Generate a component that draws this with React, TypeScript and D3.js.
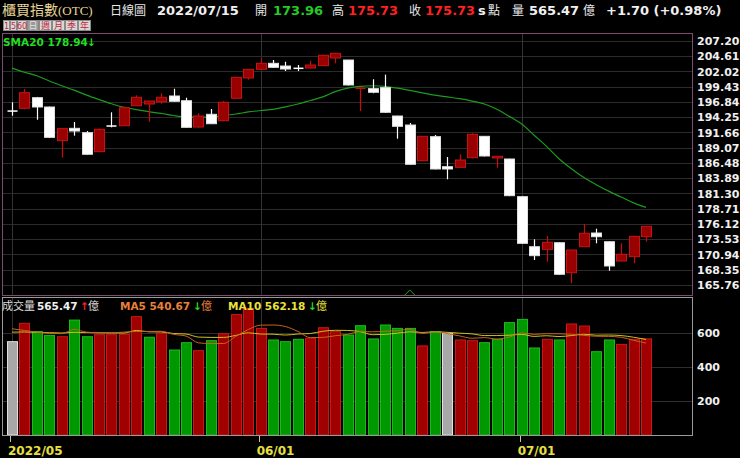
import React from 'react';
import * as d3 from 'd3';

// ---- data ----
const opens = [195.30,195.77,197.57,195.99,190.27,192.37,191.63,188.40,192.76,192.81,196.21,196.50,196.89,197.86,197.06,192.59,194.75,193.66,197.47,200.92,202.39,203.41,202.95,202.56,202.61,203.01,204.31,203.97,199.00,199.10,199.27,194.46,192.93,186.87,190.95,185.85,185.75,187.38,191.01,187.33,187.16,180.76,172.26,171.82,172.94,167.85,172.26,174.59,173.11,169.84,170.57,173.96];
const highs = [196.79,199.05,197.70,196.05,192.40,193.44,191.91,192.35,195.09,196.04,197.98,197.05,198.32,199.10,197.57,194.92,195.65,197.01,201.10,202.45,204.26,203.97,203.68,203.12,203.85,204.85,205.15,204.00,199.20,200.70,201.48,194.50,193.27,191.05,191.24,187.50,187.96,191.52,191.05,187.65,187.20,180.80,173.52,174.08,173.00,171.75,176.12,175.32,173.15,172.84,174.10,175.73];
const lows = [194.51,195.60,193.83,190.75,187.38,191.12,187.90,188.30,192.54,192.75,196.15,193.49,196.55,196.90,192.50,192.50,193.10,193.60,197.40,200.63,202.30,202.65,202.10,202.10,202.55,202.95,203.41,199.65,195.31,198.32,195.00,190.61,186.20,186.80,185.40,183.71,185.70,187.30,187.60,185.68,180.85,172.80,170.01,169.72,167.50,166.05,172.20,172.84,168.19,169.80,169.44,173.11];
const closes = [195.19,198.42,195.99,190.84,192.31,191.91,187.96,192.20,192.60,195.87,197.64,197.01,197.64,196.96,192.54,194.46,193.15,196.79,201.03,202.39,203.41,202.73,202.44,202.39,203.12,204.77,205.11,199.73,199.17,198.49,195.09,192.71,186.26,191.01,185.46,185.46,186.99,191.35,187.67,187.62,180.93,172.84,170.74,173.01,167.58,171.70,174.54,173.96,168.99,170.97,174.03,175.73];
const sma20 = [202.6,201.9,201.3,200.4,199.6,198.85,198.0,197.25,196.55,195.95,195.55,195.2,194.9,194.55,194.3,194.25,194.3,194.55,194.8,195.15,195.4,195.6,196.0,196.5,197.1,197.7,198.6,199.2,199.5,199.6,199.5,199.2,198.8,198.4,198.0,197.7,197.4,197.0,196.5,195.6,194.4,193.1,191.2,189.3,187.2,185.5,184.0,182.8,181.7,180.7,179.7,178.94];
const volumes = [549,657,608,586,578,676,578,590,590,592,696,575,598,500,543,496,555,596,708,745,627,559,549,563,569,631,608,588,643,565,647,627,627,524,608,598,559,555,543,563,661,680,512,563,559,653,641,490,559,533,563,565.47];
const volMA5 = [625,615,605,598,596,621,605,602,602,605,609,609,610,592,582,542,538,538,580,620,646,647,638,609,573,574,584,592,608,607,610,614,622,598,607,597,583,569,573,564,576,600,592,596,595,593,586,581,580,575,557,540.67];
const volMA10 = [605,606,604,602,600,604,603,601,600,600,615,607,606,597,594,576,574,574,586,601,594,593,588,594,597,610,616,615,608,590,592,599,607,603,607,604,599,595,585,585,587,592,580,584,579,585,593,587,588,585,575,562.18];
const priceTicks = ['207.20','204.61','202.02','199.43','196.84','194.25','191.66','189.07','186.48','183.89','181.30','178.71','176.12','173.53','170.94','168.35','165.76'];
const volTicks = [200, 400, 600];
const dateTickIndex = [0, 20, 41];
const dateTickLabels = ['2022/05', '06/01', '07/01'];
const periodButtons = ['1', '5', '60', '日', '週', '月', '季', '年'];

const NUM = "'DejaVu Sans', Verdana, sans-serif";
const CJK = "'Noto Sans CJK TC', 'Noto Sans CJK SC', sans-serif";

export default function App() {
  const W = 740, H = 458;
  const x = d3.scaleLinear().domain([0, 51]).range([12, 646]);
  const yP = d3.scaleLinear().domain([165.76, 207.2]).range([285, 41]);
  const yV = d3.scaleLinear().domain([0, 600]).range([435, 333]);

  const smaLine = d3.line<number>().x((_, i) => x(i)).y(d => yP(d)).curve(d3.curveMonotoneX);
  const volLine = d3.line<number>().x((_, i) => x(i)).y(d => yV(d)).curve(d3.curveMonotoneX);

  const btnW = [6, 6, 9, 11, 12, 12, 12, 12];
  let bx = 3;
  const btns = periodButtons.map((b, i) => {
    const r = { x: bx, w: btnW[i], label: b, i };
    bx += btnW[i] + 1;
    return r;
  });

  return (
    <svg width={W} height={H} style={{ position: 'fixed', left: 0, top: 0, background: '#000' }}>
      <rect x={0} y={0} width={W} height={H} fill="#000" />

      {/* header */}
      <text y={15} fontSize={14} fill="#e6d596">
        <tspan x={2} fontFamily={CJK}>櫃買指數</tspan>
        <tspan fontFamily="'Liberation Serif', serif" fontSize={13}>(OTC)</tspan>
      </text>
      <text x={110} y={15} fontFamily={CJK} fontSize={12} fill="#e8e8e8">日線圖</text>
      <text x={157} y={15} fontFamily={NUM} fontWeight="bold" fontSize={13} fill="#f0f0f0">2022/07/15</text>
      <text x={255} y={15} fontFamily={CJK} fontSize={12} fill="#e8e8e8">開</text>
      <text x={273} y={15} fontFamily={NUM} fontWeight="bold" fontSize={13} fill="#22cc22">173.96</text>
      <text x={332} y={15} fontFamily={CJK} fontSize={12} fill="#e8e8e8">高</text>
      <text x={348} y={15} fontFamily={NUM} fontWeight="bold" fontSize={13} fill="#ff2020">175.73</text>
      <text x={409} y={15} fontFamily={CJK} fontSize={12} fill="#e8e8e8">收</text>
      <text x={425} y={15} fontFamily={NUM} fontWeight="bold" fontSize={13} fill="#ff2020">175.73</text>
      <text x={478} y={15} fontFamily={NUM} fontWeight="bold" fontSize={13} fill="#f0f0f0">s</text>
      <text x={488} y={15} fontFamily={CJK} fontSize={12} fill="#e8e8e8">點</text>
      <text x={512} y={15} fontFamily={CJK} fontSize={12} fill="#e8e8e8">量</text>
      <text x={529} y={15} fontFamily={NUM} fontWeight="bold" fontSize={13} fill="#f0f0f0">565.47</text>
      <text x={583} y={15} fontFamily={CJK} fontSize={12} fill="#e8e8e8">億</text>
      <text x={606} y={15} fontFamily={NUM} fontWeight="bold" fontSize={13} fill="#f0f0f0">+1.70 (+0.98%)</text>

      {/* period buttons */}
      {btns.map(b => (
        <g key={b.i}>
          <rect x={b.x + 0.5} y={20.5} width={b.w} height={10} fill={b.label === '日' ? '#9a9a9a' : '#d8d8d8'} stroke="#8a8a8a" strokeWidth={1} />
          <text x={b.x + 0.5 + b.w / 2} y={29} textAnchor="middle" fontFamily={b.i < 3 ? NUM : CJK} fontSize={b.i < 3 ? 8 : 9} fill={b.label === '日' ? '#e0e0e0' : '#c02838'}>{b.label}</text>
        </g>
      ))}

      {/* price panel grid */}
      {priceTicks.map(t => (
        <line key={t} x1={3} x2={692} y1={Math.round(yP(+t)) + 0.5} y2={Math.round(yP(+t)) + 0.5} stroke="#2b2b2b" strokeWidth={1} />
      ))}
      {dateTickIndex.map(i => (
        <g key={'vg' + i}>
          <line x1={Math.round(x(i)) + 0.5} x2={Math.round(x(i)) + 0.5} y1={34} y2={296} stroke="#333" />
          <line x1={Math.round(x(i)) + 0.5} x2={Math.round(x(i)) + 0.5} y1={298} y2={435} stroke="#333" />
        </g>
      ))}
      <rect x={2.5} y={33.5} width={690} height={262} fill="none" stroke="#7e4c6e" strokeWidth={1} />

      {/* price labels */}
      {priceTicks.map(t => (
        <text key={'pl' + t} x={697} y={yP(+t) + 4} fontFamily={NUM} fontWeight="bold" fontSize={11} fill="#f0f0f0">{t}</text>
      ))}

      {/* SMA20 */}
      <path d={smaLine(sma20) || ''} fill="none" stroke="#1e9a1e" strokeWidth={1.2} />
      <text x={3} y={46} fontFamily={NUM} fontWeight="bold" fontSize={10.5} fill="#22dd22">SMA20 178.94</text>
      <text x={87} y={46} fontFamily={NUM} fontWeight="bold" fontSize={10.5} fill="#22dd22">↓</text>

      {/* candles */}
      {closes.map((c, i) => {
        const o = opens[i];
        const up = c > o;
        const wickCol = up ? '#cc0a0a' : '#ffffff';
        const top = yP(Math.max(o, c));
        const bot = yP(Math.min(o, c));
        const h = Math.max(1, bot - top);
        const cx = Math.round(x(i)) + 0.5;
        return (
          <g key={'c' + i}>
            <line x1={cx} x2={cx} y1={yP(highs[i])} y2={yP(lows[i])} stroke={wickCol} strokeWidth={1.2} />
            {h <= 1.5 ? (
              <line x1={cx - 5} x2={cx + 5} y1={top} y2={top} stroke={up ? '#cc0a0a' : '#ffffff'} strokeWidth={1.5} />
            ) : (
              <rect x={cx - 5} y={top} width={10} height={h} fill={up ? '#990000' : '#ffffff'} stroke={up ? '#c41414' : '#e0e0e0'} strokeWidth={1} />
            )}
          </g>
        );
      })}

      {/* marker */}
      <path d={`M${x(32) - 5},295 L${x(32)},290 L${x(32) + 5},295`} fill="none" stroke="#1faa1f" strokeWidth={1} />

      {/* volume panel */}
      {volTicks.map(v => (
        <line key={'vt' + v} x1={3} x2={692} y1={Math.round(yV(v)) + 0.5} y2={Math.round(yV(v)) + 0.5} stroke="#2e2e2e" />
      ))}
      {volumes.map((v, i) => {
        const dir = i === 0 ? 0 : Math.sign(closes[i] - closes[i - 1]);
        const fill = dir > 0 ? '#a00000' : dir < 0 ? '#009800' : '#a8a8a8';
        const stroke = dir > 0 ? '#c81818' : dir < 0 ? '#1fb81f' : '#e0e0e0';
        const cx = Math.round(x(i)) + 0.5;
        return (
          <rect key={'v' + i} x={cx - 5} y={yV(v)} width={10} height={yV(0) - yV(v)} fill={fill} stroke={stroke} strokeWidth={1} />
        );
      })}
      <path d={volLine(volMA10) || ''} fill="none" stroke="#cfc21e" strokeWidth={1} />
      <path d={volLine(volMA5) || ''} fill="none" stroke="#c8641e" strokeWidth={1} />
      <rect x={2.5} y={297.5} width={690} height={138} fill="none" stroke="#9a9a9a" strokeWidth={1} />
      {volTicks.map(v => (
        <text key={'vl' + v} x={697} y={yV(v) + 4} fontFamily={NUM} fontWeight="bold" fontSize={11} fill="#f0f0f0">{v}</text>
      ))}

      {/* volume header */}
      <text x={2} y={310} fontFamily={CJK} fontSize={11} fill="#dddddd">成交量</text>
      <text x={37} y={310} fontFamily={NUM} fontWeight="bold" fontSize={10.5} fill="#f0f0f0">565.47</text>
      <text x={80} y={310} fontFamily={NUM} fontWeight="bold" fontSize={10.5} fill="#ff2020">↑</text>
      <text x={88} y={310} fontFamily={CJK} fontSize={11} fill="#dddddd">億</text>
      <text x={120} y={310} fontFamily={NUM} fontWeight="bold" fontSize={10.5} fill="#e8803a">MA5 540.67</text>
      <text x={193} y={310} fontFamily={NUM} fontWeight="bold" fontSize={10.5} fill="#22dd22">↓</text>
      <text x={201} y={310} fontFamily={CJK} fontSize={11} fill="#e8803a">億</text>
      <text x={228} y={310} fontFamily={NUM} fontWeight="bold" fontSize={10.5} fill="#e8e23a">MA10 562.18</text>
      <text x={308} y={310} fontFamily={NUM} fontWeight="bold" fontSize={10.5} fill="#22dd22">↓</text>
      <text x={316} y={310} fontFamily={CJK} fontSize={11} fill="#e8e23a">億</text>

      {/* date axis */}
      {dateTickIndex.map((i, k) => (
        <g key={'d' + i}>
          <line x1={Math.round(x(i)) - 1.5} x2={Math.round(x(i)) - 1.5} y1={436} y2={442} stroke="#c8c8a0" />
          <text x={x(i) - 4} y={455} fontFamily={NUM} fontWeight="bold" fontSize={12} fill="#e8e040">{dateTickLabels[k]}</text>
        </g>
      ))}
    </svg>
  );
}
